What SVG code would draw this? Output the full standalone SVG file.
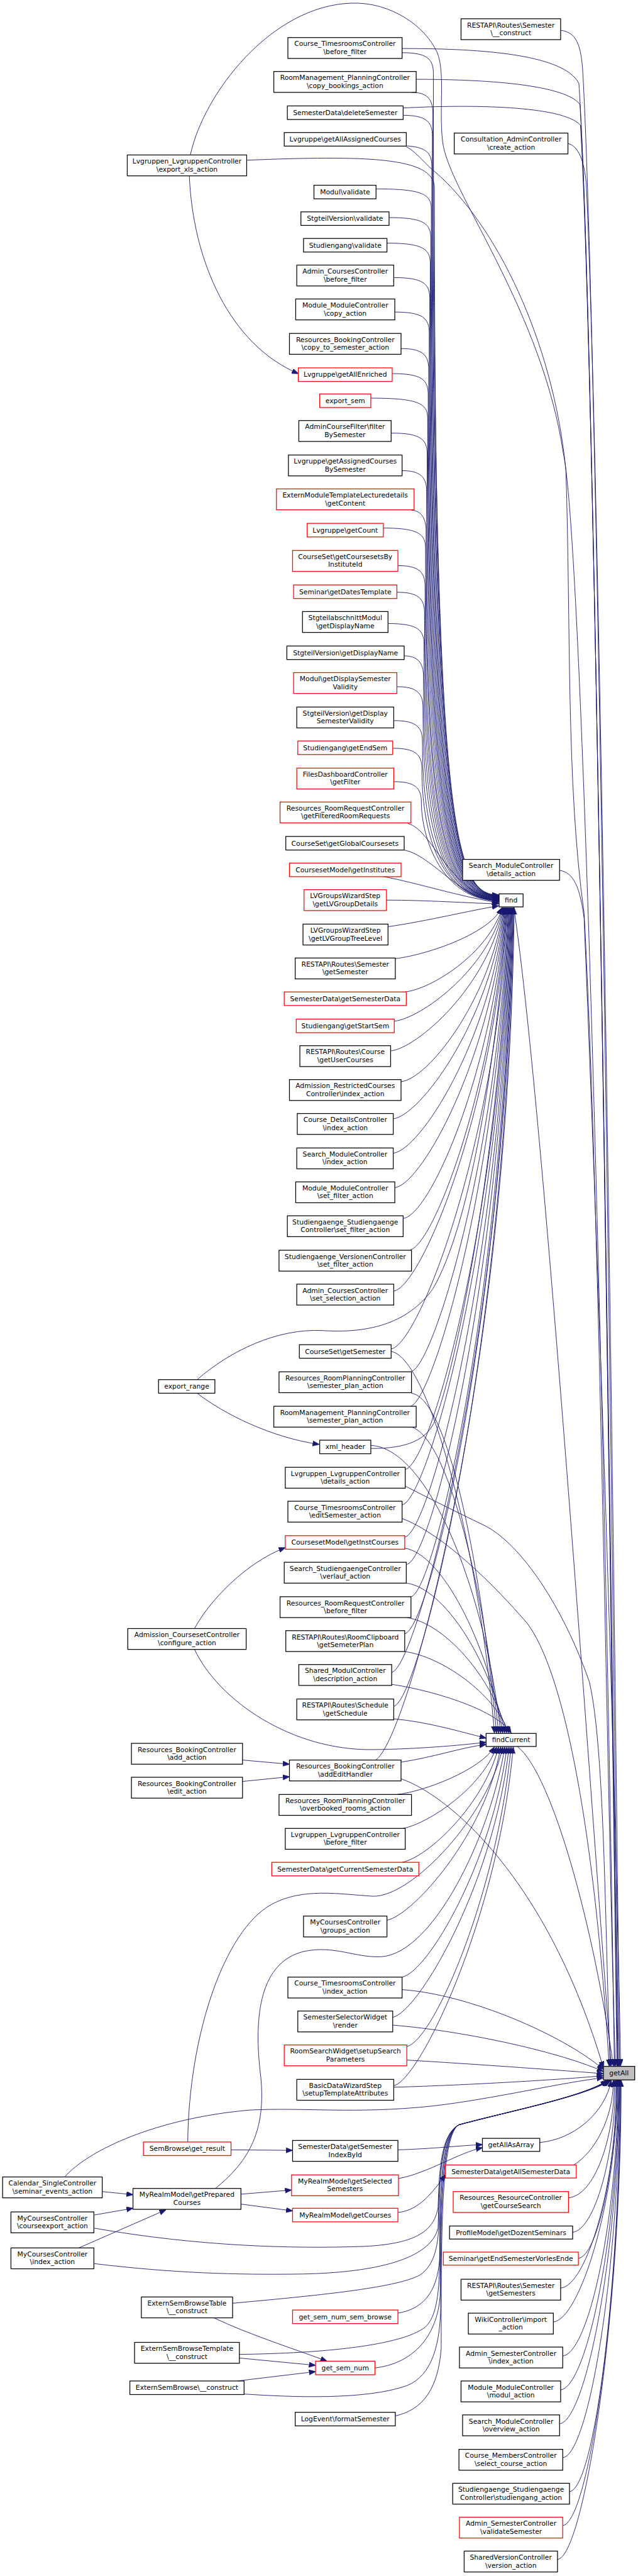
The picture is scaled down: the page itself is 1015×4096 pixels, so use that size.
<svg xmlns="http://www.w3.org/2000/svg" width="1015" height="4096" viewBox="0 0 1015 4096">
<defs>
<marker id="a" markerWidth="14" markerHeight="11" refX="12.5" refY="5" orient="auto" markerUnits="userSpaceOnUse"><path d="M0,0 L13,5 L0,10 z" fill="#191970" stroke="#191970" stroke-width="0.8"/></marker>
</defs>
<style>
.n rect{fill:#fff;stroke:#000;stroke-width:1.5}
.n.r rect{stroke:#f00}
.n.g rect{fill:#bfbfbf}
.n text{font-family:"DejaVu Sans","Liberation Sans",sans-serif;font-size:13px;text-anchor:middle;fill:#000}
#edges path{fill:none;stroke:#191970;stroke-width:1.1;marker-end:url(#a)}
</style>
<rect width="1015" height="4096" fill="#fff"/>
<g transform="scale(0.8297)">
<g id="edges">
<path d="M771,101 C819,101 831,113 831,141 C831,1596 871,1716 956,1716"/>
<path d="M789,177 C818,177 830,189 830,217 C830,1596 870,1716 956,1716"/>
<path d="M773,221 C817,221 829,233 829,261 C829,1596 869,1716 956,1716"/>
<path d="M762,279 C816,279 828,291 828,319 C828,1596 868,1716 956,1716"/>
<path d="M721,362 C815,362 827,374 827,402 C827,1597 867,1717 956,1717"/>
<path d="M746,417 C814,417 826,429 826,457 C826,1597 866,1717 956,1717"/>
<path d="M742,466 C813,466 825,478 825,506 C825,1597 865,1717 956,1717"/>
<path d="M755,532 C812,532 824,544 824,572 C824,1598 864,1718 956,1718"/>
<path d="M757,598 C811,598 823,610 823,638 C823,1598 863,1718 956,1718"/>
<path d="M769,668 C810,668 822,680 822,708 C822,1599 862,1719 956,1719"/>
<path d="M752,716 C809,716 821,728 821,756 C821,1599 861,1719 956,1719"/>
<path d="M711,763 C808,763 820,775 820,803 C820,1600 860,1720 956,1720"/>
<path d="M750,830 C807,830 819,842 819,870 C819,1600 859,1720 956,1720"/>
<path d="M771,902 C806,902 818,914 818,942 C818,1601 858,1721 956,1721"/>
<path d="M789,978 C805,978 817,990 817,1018 C817,1601 857,1721 956,1721"/>
<path d="M735,1012 C804,1012 816,1024 816,1052 C816,1602 856,1722 956,1722"/>
<path d="M763,1084 C803,1084 815,1096 815,1124 C815,1602 855,1722 956,1722"/>
<path d="M761,1135 C802,1135 814,1147 814,1175 C814,1603 854,1723 956,1723"/>
<path d="M744,1195 C801,1195 813,1207 813,1235 C813,1603 853,1723 956,1723"/>
<path d="M775,1257 C800,1257 812,1269 812,1297 C812,1604 852,1724 956,1724"/>
<path d="M761,1316 C799,1316 811,1328 811,1356 C811,1604 851,1724 956,1724"/>
<path d="M755,1381 C798,1381 810,1393 810,1421 C810,1605 850,1725 956,1725"/>
<path d="M753,1434 C797,1434 809,1446 809,1474 C809,1605 849,1725 956,1725"/>
<path d="M755,1498 C796,1498 808,1510 808,1538 C808,1606 848,1726 956,1726"/>
<path d="M473,307 C700,298 833,300 833,360 C833,1595 873,1715 956,1715"/>
<path d="M782,1578 C830,1590 860,1710 956,1727"/>
<path d="M775,1629 C830,1640 880,1722 956,1728"/>
<path d="M736,1680 C800,1692 880,1718 956,1730"/>
<path d="M741,1725 C820,1725 900,1731 956,1732"/>
<path d="M744,1776 C820,1765 900,1745 956,1736"/>
<path d="M758,1837 C808,1832 935,1793 962,1740"/>
<path d="M776,1901 C826,1896 935,1829 963,1740"/>
<path d="M756,1957 C806,1952 935,1859 964,1740"/>
<path d="M749,2014 C799,2009 936,1891 965,1740"/>
<path d="M769,2073 C819,2068 937,1923 966,1740"/>
<path d="M754,2144 C804,2139 938,1962 967,1740"/>
<path d="M754,2210 C804,2205 940,1999 968,1740"/>
<path d="M757,2276 C807,2271 941,2035 969,1740"/>
<path d="M773,2335 C823,2330 942,2067 970,1740"/>
<path d="M787,2395 C830,2385 943,2100 971,1740"/>
<path d="M755,2474 C805,2469 945,2144 972,1740"/>
<path d="M378,2644 C440,2590 530,2545 620,2550 C700,2555 780,2540 830,2470 C900,2350 950,2050 973,1740"/>
<path d="M750,2585 C800,2580 950,2205 974,1740"/>
<path d="M789,2628 C830,2618 952,2228 975,1740"/>
<path d="M787,2695 C830,2685 954,2265 976,1740"/>
<path d="M711,2776 C780,2776 820,2760 835,2720 C880,2600 958,2200 977,1740"/>
<path d="M777,2816 C827,2806 958,2332 978,1740"/>
<path d="M771,2884 C821,2874 960,2369 979,1740"/>
<path d="M776,2946 C826,2936 962,2403 980,1740"/>
<path d="M780,2998 C830,2988 964,2432 981,1740"/>
<path d="M788,3060 C835,3050 966,2466 982,1740"/>
<path d="M776,3131 C826,3121 968,2505 983,1740"/>
<path d="M751,3205 C801,3195 970,2546 984,1740"/>
<path d="M755,3270 C805,3260 972,2582 985,1740"/>
<path d="M720,3373 C780,3340 975,2638 986,1740"/>
<path d="M750,2590 C820,2600 918,2956 948,3321"/>
<path d="M789,2670 C859,2680 922,2995 952,3321"/>
<path d="M785,2734 C855,2744 926,3027 956,3321"/>
<path d="M711,2770 C821,2775 930,3045 960,3321"/>
<path d="M776,2967 C846,2977 934,3144 964,3321"/>
<path d="M780,3034 C850,3044 938,3177 968,3321"/>
<path d="M780,3100 C850,3110 942,3210 972,3321"/>
<path d="M776,3165 C846,3175 946,3243 976,3321"/>
<path d="M751,3228 C821,3238 950,3274 980,3321"/>
<path d="M755,3294 C820,3300 880,3318 932,3331"/>
<path d="M373,3161 C420,3260 560,3355 715,3353 C800,3352 880,3345 932,3339"/>
<path d="M769,3377 C830,3368 880,3350 932,3343"/>
<path d="M761,3439 C811,3434 920,3393 948,3348"/>
<path d="M773,3504 C823,3494 924,3426 952,3348"/>
<path d="M771,3569 C821,3559 928,3458 956,3348"/>
<path d="M742,3680 C792,3670 932,3514 960,3348"/>
<path d="M360,4105 C362,3900 430,3700 520,3650 C580,3617 650,3630 715,3634 C790,3636 936,3480 964,3348"/>
<path d="M413,4194 C480,4140 510,4080 500,3980 C485,3860 500,3760 582,3740 C640,3727 680,3752 730,3750 C830,3745 940,3520 968,3348"/>
<path d="M771,3789 C821,3779 944,3568 972,3348"/>
<path d="M753,3866 C803,3856 948,3607 976,3348"/>
<path d="M780,3922 C830,3912 952,3635 980,3348"/>
<path d="M755,3997 C805,3987 956,3672 984,3348"/>
<path d="M769,3409 C860,3440 1050,3600 1157,3963"/>
<path d="M771,3813 C900,3822 1080,3900 1157,3966"/>
<path d="M753,3881 C900,3893 1080,3935 1157,3970"/>
<path d="M780,3948 C900,3955 1080,3968 1157,3974"/>
<path d="M755,4000 C900,3996 1080,3985 1157,3978"/>
<path d="M124,4172 C170,4120 300,4060 476,4044 C580,4038 680,4052 830,4036 C950,4022 1080,3990 1157,3982"/>
<path d="M771,93 C900,93 1080,100 1110,160 C1140,600 1170,3000 1183,3959"/>
<path d="M798,152 C900,152 1080,158 1112,200 C1140,640 1170,3000 1184,3959"/>
<path d="M773,207 C900,200 1080,202 1113,240 C1140,680 1171,3000 1185,3959"/>
<path d="M1075,58 C1105,62 1113,85 1117,130 C1145,600 1175,3000 1186,3959"/>
<path d="M1089,275 C1110,280 1120,310 1124,350 C1150,900 1178,3000 1188,3959"/>
<path d="M1073,1668 C1100,1672 1112,1700 1120,1760 C1150,2500 1180,3400 1190,3959"/>
<path d="M779,281 C800,292 818,318 835,330 C950,430 1060,650 1085,900 C1095,1200 1085,1500 1120,1750 C1150,2300 1165,3500 1180,3959"/>
<path d="M365,297 C390,180 520,10 675,6 C750,4 815,50 838,100 C855,140 840,220 850,280 C870,380 1040,600 1080,868 C1120,1050 1165,3000 1178,3959"/>
<path d="M985,1738 C1040,2100 1130,3400 1172,3959"/>
<path d="M992,3347 C1060,3400 1140,3700 1176,3959"/>
<path d="M777,2848 C810,2865 880,2900 930,2924 C1000,2960 1080,3080 1130,3223 C1160,3350 1160,3700 1170,3959"/>
<path d="M771,2910 C850,2940 950,3040 1010,3110 C1080,3200 1140,3500 1168,3959"/>
<path d="M1100,4149 C1140,4125 1176,4060 1176,3987"/>
<path d="M1090,4212 C1140,4207 1178,4100 1178,3987"/>
<path d="M1098,4278 C1140,4273 1180,4133 1180,3987"/>
<path d="M1109,4328 C1145,4323 1182,4158 1182,3987"/>
<path d="M1075,4385 C1125,4380 1183,4186 1183,3987"/>
<path d="M1061,4450 C1111,4445 1184,4219 1184,3987"/>
<path d="M1079,4515 C1129,4510 1185,4251 1185,3987"/>
<path d="M1075,4580 C1125,4575 1186,4284 1186,3987"/>
<path d="M1073,4645 C1123,4640 1187,4316 1187,3987"/>
<path d="M1079,4710 C1129,4705 1188,4349 1188,3987"/>
<path d="M1092,4775 C1140,4770 1189,4381 1189,3987"/>
<path d="M1079,4840 C1129,4835 1190,4414 1190,3987"/>
<path d="M1069,4905 C1119,4900 1191,4446 1191,3987"/>
<path d="M1035,4106 C1100,4100 1160,4050 1172,3987"/>
<path d="M180,4270 C380,4305 560,4310 700,4305 C790,4300 832,4280 840,4230 C842,4160 845,4090 880,4072 C980,4045 1120,4018 1164,3987"/>
<path d="M180,4338 C330,4356 450,4360 580,4358 C720,4355 825,4330 840,4270 C842,4180 845,4090 880,4072 C980,4045 1120,4018 1165,3987"/>
<path d="M446,4414 C600,4400 760,4385 805,4360 C835,4340 841,4300 842,4250 C843,4170 845,4090 880,4072 C980,4045 1120,4018 1166,3987"/>
<path d="M459,4512 C620,4510 770,4495 815,4460 C838,4440 843,4390 843,4320 C844,4200 845,4090 880,4072 C980,4045 1120,4018 1167,3987"/>
<path d="M763,4433 C810,4425 838,4395 843,4330 C844,4210 845,4090 880,4072 C980,4045 1120,4018 1168,3987"/>
<path d="M719,4538 C790,4530 838,4480 844,4400 C845,4240 845,4090 880,4072 C980,4045 1120,4018 1169,3987"/>
<path d="M468,4588 C560,4594 700,4600 780,4572 C830,4552 844,4490 845,4420 C845,4250 845,4090 880,4072 C980,4045 1120,4018 1170,3987"/>
<path d="M758,4630 C810,4618 840,4580 846,4500 C846,4290 845,4090 880,4072 C980,4045 1120,4018 1171,3987"/>
<path d="M363,337 C370,500 440,660 572,716"/>
<path d="M378,2670 C430,2710 520,2755 612,2768"/>
<path d="M373,3121 C400,3070 470,2995 547,2966"/>
<path d="M465,3373 L555,3381"/>
<path d="M465,3414 L555,3405"/>
<path d="M443,4120 L561,4121"/>
<path d="M462,4205 L559,4197"/>
<path d="M462,4224 L561,4237"/>
<path d="M196,4200 L255,4206"/>
<path d="M180,4245 L255,4232"/>
<path d="M151,4308 L318,4235"/>
<path d="M410,4442 C480,4475 560,4500 627,4525"/>
<path d="M459,4519 L605,4533"/>
<path d="M455,4563 L605,4545"/>
<path d="M763,4120 C830,4118 880,4112 925,4110"/>
<path d="M764,4175 C820,4165 880,4125 925,4116"/>
<path d="M763,4240 C805,4236 830,4200 854,4168"/>
</g>
<g id="n1" class="n"><rect x="552" y="72" width="219" height="40"/><text x="661.5" y="88.5">Course_TimesroomsController</text><text x="661.5" y="103.5">\before_filter</text></g>
<g id="n2" class="n"><rect x="525" y="137" width="273" height="40"/><text x="661.5" y="153.5">RoomManagement_PlanningController</text><text x="661.5" y="168.5">\copy_bookings_action</text></g>
<g id="n3" class="n"><rect x="551" y="203" width="222" height="26"/><text x="662" y="220.5">SemesterData\deleteSemester</text></g>
<g id="n4" class="n"><rect x="545" y="254" width="234" height="26"/><text x="662" y="271.5">Lvgruppe\getAllAssignedCourses</text></g>
<g id="n5" class="n"><rect x="602" y="355" width="119" height="26"/><text x="661.5" y="372.5">Modul\validate</text></g>
<g id="n6" class="n"><rect x="577" y="406" width="169" height="26"/><text x="661.5" y="423.5">StgteilVersion\validate</text></g>
<g id="n7" class="n"><rect x="582" y="457" width="160" height="26"/><text x="662" y="474.5">Studiengang\validate</text></g>
<g id="n8" class="n"><rect x="569" y="508" width="186" height="40"/><text x="662" y="524.5">Admin_CoursesController</text><text x="662" y="539.5">\before_filter</text></g>
<g id="n9" class="n"><rect x="567" y="573" width="190" height="40"/><text x="662" y="589.5">Module_ModuleController</text><text x="662" y="604.5">\copy_action</text></g>
<g id="n10" class="n"><rect x="555" y="639" width="214" height="40"/><text x="662" y="655.5">Resources_BookingController</text><text x="662" y="670.5">\copy_to_semester_action</text></g>
<g id="n11" class="n r"><rect x="572" y="705" width="180" height="26"/><text x="662" y="722.5">Lvgruppe\getAllEnriched</text></g>
<g id="n12" class="n r"><rect x="613" y="755" width="98" height="26"/><text x="662" y="772.5">export_sem</text></g>
<g id="n13" class="n"><rect x="573" y="806" width="177" height="40"/><text x="661.5" y="822.5">AdminCourseFilter\filter</text><text x="661.5" y="837.5">BySemester</text></g>
<g id="n14" class="n"><rect x="553" y="872" width="218" height="40"/><text x="662" y="888.5">Lvgruppe\getAssignedCourses</text><text x="662" y="903.5">BySemester</text></g>
<g id="n15" class="n r"><rect x="530" y="937" width="264" height="40"/><text x="662" y="953.5">ExternModuleTemplateLecturedetails</text><text x="662" y="968.5">\getContent</text></g>
<g id="n16" class="n r"><rect x="589" y="1003" width="146" height="26"/><text x="662" y="1020.5">Lvgruppe\getCount</text></g>
<g id="n17" class="n r"><rect x="561" y="1055" width="202" height="40"/><text x="662" y="1071.5">CourseSet\getCoursesetsBy</text><text x="662" y="1086.5">InstituteId</text></g>
<g id="n18" class="n r"><rect x="563" y="1121" width="198" height="26"/><text x="662" y="1138.5">Seminar\getDatesTemplate</text></g>
<g id="n19" class="n"><rect x="580" y="1172" width="164" height="40"/><text x="662" y="1188.5">StgteilabschnittModul</text><text x="662" y="1203.5">\getDisplayName</text></g>
<g id="n20" class="n"><rect x="550" y="1238" width="225" height="26"/><text x="662.5" y="1255.5">StgteilVersion\getDisplayName</text></g>
<g id="n21" class="n r"><rect x="563" y="1289" width="198" height="40"/><text x="662" y="1305.5">Modul\getDisplaySemester</text><text x="662" y="1320.5">Validity</text></g>
<g id="n22" class="n"><rect x="569" y="1355" width="186" height="40"/><text x="662" y="1371.5">StgteilVersion\getDisplay</text><text x="662" y="1386.5">SemesterValidity</text></g>
<g id="n23" class="n r"><rect x="571" y="1420" width="182" height="26"/><text x="662" y="1437.5">Studiengang\getEndSem</text></g>
<g id="n24" class="n r"><rect x="569" y="1472" width="186" height="40"/><text x="662" y="1488.5">FilesDashboardController</text><text x="662" y="1503.5">\getFilter</text></g>
<g id="n25" class="n r"><rect x="537" y="1537" width="251" height="40"/><text x="662.5" y="1553.5">Resources_RoomRequestController</text><text x="662.5" y="1568.5">\getFilteredRoomRequests</text></g>
<g id="n26" class="n"><rect x="548" y="1603" width="227" height="26"/><text x="661.5" y="1620.5">CourseSet\getGlobalCoursesets</text></g>
<g id="n27" class="n r"><rect x="555" y="1654" width="214" height="26"/><text x="662" y="1671.5">CoursesetModel\getInstitutes</text></g>
<g id="n28" class="n r"><rect x="583" y="1705" width="158" height="40"/><text x="662" y="1721.5">LVGroupsWizardStep</text><text x="662" y="1736.5">\getLVGroupDetails</text></g>
<g id="n29" class="n"><rect x="581" y="1771" width="163" height="40"/><text x="662.5" y="1787.5">LVGroupsWizardStep</text><text x="662.5" y="1802.5">\getLVGroupTreeLevel</text></g>
<g id="n30" class="n"><rect x="566" y="1836" width="192" height="40"/><text x="662" y="1852.5">RESTAPI\Routes\Semester</text><text x="662" y="1867.5">\getSemester</text></g>
<g id="n31" class="n r"><rect x="545" y="1901" width="234" height="26"/><text x="662" y="1918.5">SemesterData\getSemesterData</text></g>
<g id="n32" class="n r"><rect x="568" y="1953" width="188" height="26"/><text x="662" y="1970.5">Studiengang\getStartSem</text></g>
<g id="n33" class="n"><rect x="575" y="2004" width="174" height="40"/><text x="662" y="2020.5">RESTAPI\Routes\Course</text><text x="662" y="2035.5">\getUserCourses</text></g>
<g id="n34" class="n"><rect x="555" y="2069" width="214" height="40"/><text x="662" y="2085.5">Admission_RestrictedCourses</text><text x="662" y="2100.5">Controller\index_action</text></g>
<g id="n35" class="n"><rect x="570" y="2134" width="184" height="40"/><text x="662" y="2150.5">Course_DetailsController</text><text x="662" y="2165.5">\index_action</text></g>
<g id="n36" class="n"><rect x="569" y="2200" width="185" height="40"/><text x="661.5" y="2216.5">Search_ModuleController</text><text x="661.5" y="2231.5">\index_action</text></g>
<g id="n37" class="n"><rect x="567" y="2265" width="190" height="40"/><text x="662" y="2281.5">Module_ModuleController</text><text x="662" y="2296.5">\set_filter_action</text></g>
<g id="n38" class="n"><rect x="551" y="2330" width="222" height="40"/><text x="662" y="2346.5">Studiengaenge_Studiengaenge</text><text x="662" y="2361.5">Controller\set_filter_action</text></g>
<g id="n39" class="n"><rect x="535" y="2396" width="254" height="40"/><text x="662" y="2412.5">Studiengaenge_VersionenController</text><text x="662" y="2427.5">\set_filter_action</text></g>
<g id="n40" class="n"><rect x="569" y="2461" width="186" height="40"/><text x="662" y="2477.5">Admin_CoursesController</text><text x="662" y="2492.5">\set_selection_action</text></g>
<g id="n41" class="n"><rect x="574" y="2577" width="176" height="26"/><text x="662" y="2594.5">CourseSet\getSemester</text></g>
<g id="n42" class="n"><rect x="535" y="2629" width="254" height="40"/><text x="662" y="2645.5">Resources_RoomPlanningController</text><text x="662" y="2660.5">\semester_plan_action</text></g>
<g id="n43" class="n"><rect x="525" y="2695" width="273" height="40"/><text x="661.5" y="2711.5">RoomManagement_PlanningController</text><text x="661.5" y="2726.5">\semester_plan_action</text></g>
<g id="n44" class="n"><rect x="613" y="2760" width="98" height="26"/><text x="662" y="2777.5">xml_header</text></g>
<g id="n45" class="n"><rect x="547" y="2812" width="230" height="40"/><text x="662" y="2828.5">Lvgruppen_LvgruppenController</text><text x="662" y="2843.5">\details_action</text></g>
<g id="n46" class="n"><rect x="552" y="2877" width="219" height="40"/><text x="661.5" y="2893.5">Course_TimesroomsController</text><text x="661.5" y="2908.5">\editSemester_action</text></g>
<g id="n47" class="n r"><rect x="547" y="2943" width="229" height="26"/><text x="661.5" y="2960.5">CoursesetModel\getInstCourses</text></g>
<g id="n48" class="n"><rect x="545" y="2994" width="234" height="40"/><text x="662" y="3010.5">Search_StudiengaengeController</text><text x="662" y="3025.5">\verlauf_action</text></g>
<g id="n49" class="n"><rect x="537" y="3060" width="251" height="40"/><text x="662.5" y="3076.5">Resources_RoomRequestController</text><text x="662.5" y="3091.5">\before_filter</text></g>
<g id="n50" class="n"><rect x="548" y="3125" width="228" height="40"/><text x="662" y="3141.5">RESTAPI\Routes\RoomClipboard</text><text x="662" y="3156.5">\getSemeterPlan</text></g>
<g id="n51" class="n"><rect x="573" y="3190" width="178" height="40"/><text x="662" y="3206.5">Shared_ModulController</text><text x="662" y="3221.5">\description_action</text></g>
<g id="n52" class="n"><rect x="569" y="3256" width="186" height="40"/><text x="662" y="3272.5">RESTAPI\Routes\Schedule</text><text x="662" y="3287.5">\getSchedule</text></g>
<g id="n53" class="n"><rect x="555" y="3373" width="214" height="40"/><text x="662" y="3389.5">Resources_BookingController</text><text x="662" y="3404.5">\addEditHandler</text></g>
<g id="n54" class="n"><rect x="535" y="3439" width="254" height="40"/><text x="662" y="3455.5">Resources_RoomPlanningController</text><text x="662" y="3470.5">\overbooked_rooms_action</text></g>
<g id="n55" class="n"><rect x="547" y="3504" width="230" height="40"/><text x="662" y="3520.5">Lvgruppen_LvgruppenController</text><text x="662" y="3535.5">\before_filter</text></g>
<g id="n56" class="n r"><rect x="521" y="3569" width="282" height="26"/><text x="662" y="3586.5">SemesterData\getCurrentSemesterData</text></g>
<g id="n57" class="n"><rect x="582" y="3672" width="160" height="40"/><text x="662" y="3688.5">MyCoursesController</text><text x="662" y="3703.5">\groups_action</text></g>
<g id="n58" class="n"><rect x="552" y="3789" width="219" height="40"/><text x="661.5" y="3805.5">Course_TimesroomsController</text><text x="661.5" y="3820.5">\index_action</text></g>
<g id="n59" class="n"><rect x="571" y="3854" width="182" height="40"/><text x="662" y="3870.5">SemesterSelectorWidget</text><text x="662" y="3885.5">\render</text></g>
<g id="n60" class="n r"><rect x="545" y="3919" width="235" height="40"/><text x="662.5" y="3935.5">RoomSearchWidget\setupSearch</text><text x="662.5" y="3950.5">Parameters</text></g>
<g id="n61" class="n"><rect x="569" y="3985" width="186" height="40"/><text x="662" y="4001.5">BasicDataWizardStep</text><text x="662" y="4016.5">\setupTemplateAttributes</text></g>
<g id="n62" class="n"><rect x="561" y="4102" width="202" height="40"/><text x="662" y="4118.5">SemesterData\getSemester</text><text x="662" y="4133.5">IndexById</text></g>
<g id="n63" class="n r"><rect x="559" y="4168" width="205" height="40"/><text x="661.5" y="4184.5">MyRealmModel\getSelected</text><text x="661.5" y="4199.5">Semesters</text></g>
<g id="n64" class="n r"><rect x="561" y="4232" width="202" height="26"/><text x="662" y="4249.5">MyRealmModel\getCourses</text></g>
<g id="n65" class="n r"><rect x="561" y="4427" width="202" height="26"/><text x="662" y="4444.5">get_sem_num_sem_browse</text></g>
<g id="n66" class="n r"><rect x="605" y="4525" width="114" height="26"/><text x="662" y="4542.5">get_sem_num</text></g>
<g id="n67" class="n"><rect x="566" y="4623" width="192" height="26"/><text x="662" y="4640.5">LogEvent\formatSemester</text></g>
<g id="b1" class="n"><rect x="244" y="297" width="229" height="40"/><text x="358.5" y="313.5">Lvgruppen_LvgruppenController</text><text x="358.5" y="328.5">\export_xls_action</text></g>
<g id="b2" class="n"><rect x="304" y="2644" width="108" height="26"/><text x="358" y="2661.5">export_range</text></g>
<g id="b3" class="n"><rect x="245" y="3121" width="227" height="40"/><text x="358.5" y="3137.5">Admission_CoursesetController</text><text x="358.5" y="3152.5">\configure_action</text></g>
<g id="b4" class="n"><rect x="252" y="3341" width="213" height="40"/><text x="358.5" y="3357.5">Resources_BookingController</text><text x="358.5" y="3372.5">\add_action</text></g>
<g id="b5" class="n"><rect x="252" y="3406" width="213" height="40"/><text x="358.5" y="3422.5">Resources_BookingController</text><text x="358.5" y="3437.5">\edit_action</text></g>
<g id="b6" class="n r"><rect x="275" y="4105" width="168" height="26"/><text x="359" y="4122.5">SemBrowse\get_result</text></g>
<g id="b7" class="n"><rect x="255" y="4194" width="207" height="40"/><text x="358.5" y="4210.5">MyRealmModel\getPrepared</text><text x="358.5" y="4225.5">Courses</text></g>
<g id="b8" class="n"><rect x="271" y="4402" width="175" height="40"/><text x="358.5" y="4418.5">ExternSemBrowseTable</text><text x="358.5" y="4433.5">\__construct</text></g>
<g id="b9" class="n"><rect x="258" y="4489" width="201" height="40"/><text x="358.5" y="4505.5">ExternSemBrowseTemplate</text><text x="358.5" y="4520.5">\__construct</text></g>
<g id="b10" class="n"><rect x="249" y="4563" width="219" height="26"/><text x="358.5" y="4580.5">ExternSemBrowse\__construct</text></g>
<g id="c1" class="n"><rect x="5" y="4172" width="191" height="40"/><text x="100.5" y="4188.5">Calendar_SingleController</text><text x="100.5" y="4203.5">\seminar_events_action</text></g>
<g id="c2" class="n"><rect x="21" y="4239" width="159" height="40"/><text x="100.5" y="4255.5">MyCoursesController</text><text x="100.5" y="4270.5">\courseexport_action</text></g>
<g id="c3" class="n"><rect x="21" y="4308" width="159" height="40"/><text x="100.5" y="4324.5">MyCoursesController</text><text x="100.5" y="4339.5">\index_action</text></g>
<g id="r1" class="n"><rect x="884" y="36" width="191" height="40"/><text x="979.5" y="52.5">RESTAPI\Routes\Semester</text><text x="979.5" y="67.5">\__construct</text></g>
<g id="r2" class="n"><rect x="871" y="255" width="218" height="40"/><text x="980" y="271.5">Consultation_AdminController</text><text x="980" y="286.5">\create_action</text></g>
<g id="r3" class="n"><rect x="887" y="1647" width="186" height="40"/><text x="980" y="1663.5">Search_ModuleController</text><text x="980" y="1678.5">\details_action</text></g>
<g id="find" class="n"><rect x="957" y="1713" width="46" height="25"/><text x="980" y="1730">find</text></g>
<g id="findCurrent" class="n"><rect x="932" y="3322" width="96" height="25"/><text x="980" y="3339">findCurrent</text></g>
<g id="getAll" class="n g"><rect x="1157" y="3960" width="60" height="26"/><text x="1187" y="3977.5">getAll</text></g>
<g id="getAllAsArray" class="n"><rect x="925" y="4098" width="110" height="25"/><text x="980" y="4115">getAllAsArray</text></g>
<g id="r4" class="n r"><rect x="854" y="4149" width="251" height="25"/><text x="979.5" y="4166">SemesterData\getAllSemesterData</text></g>
<g id="r5" class="n r"><rect x="869" y="4200" width="221" height="40"/><text x="979.5" y="4216.5">Resources_ResourceController</text><text x="979.5" y="4231.5">\getCourseSearch</text></g>
<g id="r6" class="n"><rect x="862" y="4266" width="236" height="25"/><text x="980" y="4283">ProfileModel\getDozentSeminars</text></g>
<g id="r7" class="n r"><rect x="850" y="4316" width="259" height="25"/><text x="979.5" y="4333">Seminar\getEndSemesterVorlesEnde</text></g>
<g id="r8" class="n"><rect x="884" y="4368" width="191" height="40"/><text x="979.5" y="4384.5">RESTAPI\Routes\Semester</text><text x="979.5" y="4399.5">\getSemesters</text></g>
<g id="r9" class="n"><rect x="898" y="4433" width="163" height="40"/><text x="979.5" y="4449.5">WikiController\import</text><text x="979.5" y="4464.5">_action</text></g>
<g id="r10" class="n"><rect x="881" y="4498" width="198" height="40"/><text x="980" y="4514.5">Admin_SemesterController</text><text x="980" y="4529.5">\index_action</text></g>
<g id="r11" class="n"><rect x="884" y="4563" width="191" height="40"/><text x="979.5" y="4579.5">Module_ModuleController</text><text x="979.5" y="4594.5">\modul_action</text></g>
<g id="r12" class="n"><rect x="887" y="4628" width="186" height="40"/><text x="980" y="4644.5">Search_ModuleController</text><text x="980" y="4659.5">\overview_action</text></g>
<g id="r13" class="n"><rect x="880" y="4694" width="199" height="40"/><text x="979.5" y="4710.5">Course_MembersController</text><text x="979.5" y="4725.5">\select_course_action</text></g>
<g id="r14" class="n"><rect x="868" y="4759" width="224" height="40"/><text x="980" y="4775.5">Studiengaenge_Studiengaenge</text><text x="980" y="4790.5">Controller\studiengang_action</text></g>
<g id="r15" class="n r"><rect x="881" y="4824" width="198" height="40"/><text x="980" y="4840.5">Admin_SemesterController</text><text x="980" y="4855.5">\validateSemester</text></g>
<g id="r16" class="n"><rect x="890" y="4889" width="179" height="40"/><text x="979.5" y="4905.5">SharedVersionController</text><text x="979.5" y="4920.5">\version_action</text></g>
</g>
</svg>
